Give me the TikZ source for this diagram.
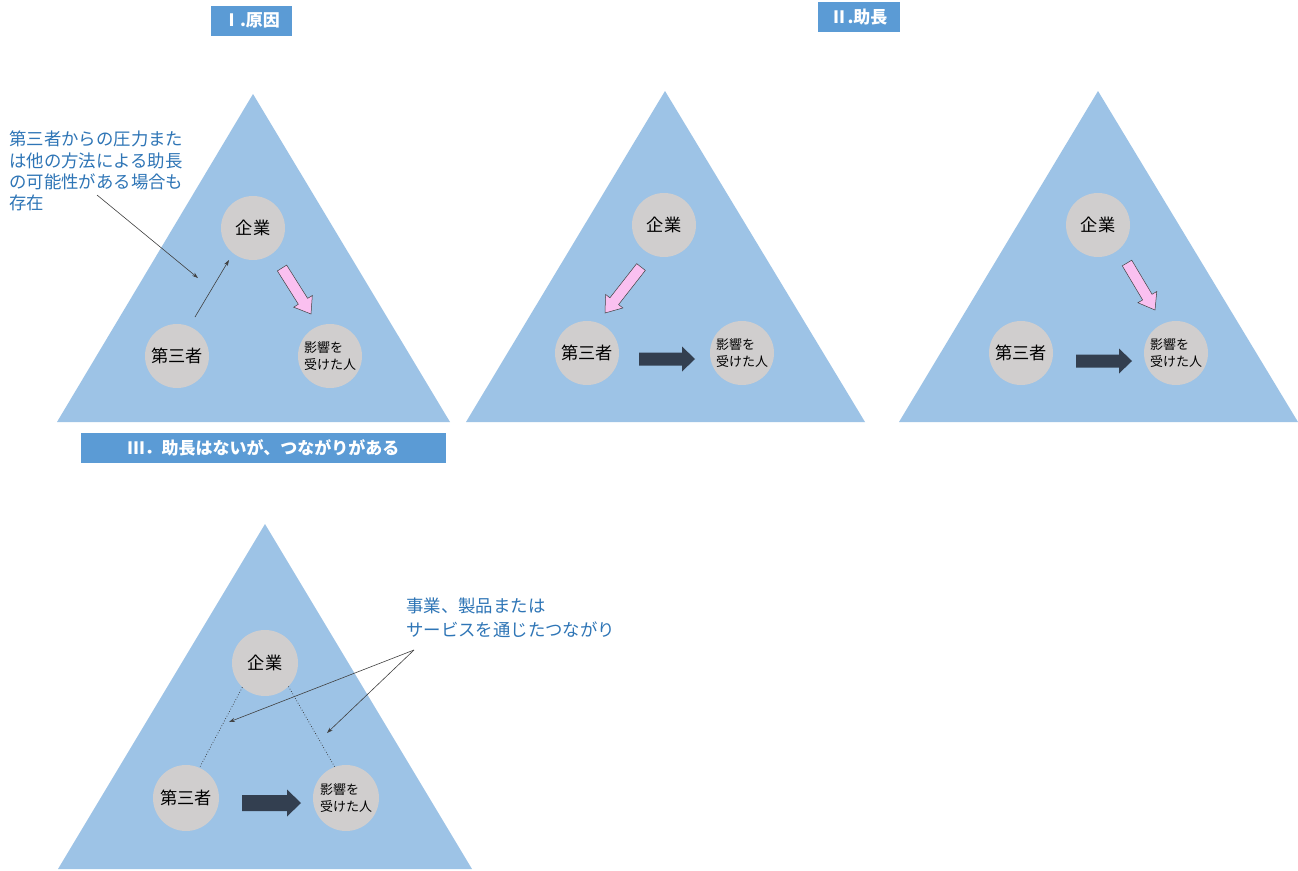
\documentclass[tikz,border=0pt]{standalone}
\usepackage{fontspec}
\setmainfont{Noto Sans CJK JP}
\usetikzlibrary{calc,arrows.meta}
\definecolor{tri}{HTML}{9DC3E6}
\definecolor{titlebg}{HTML}{5B9BD5}
\definecolor{circ}{HTML}{D0CECE}
\definecolor{darkarr}{HTML}{333F50}
\definecolor{pinkarr}{RGB}{250,192,240}
\definecolor{note}{HTML}{2E75B6}
\definecolor{thin}{HTML}{404040}
\newcommand{\blockarr}[6]{%
  \coordinate (bahd) at ($(#2)!#5!(#1)$);
  \path[#6] ($(#1)!#3!90:(#2)$) -- ($(bahd)!#3!-90:(#1)$) -- ($(bahd)!#4!-90:(#1)$) -- (#2) -- ($(bahd)!#4!90:(#1)$) -- ($(bahd)!#3!90:(#1)$) -- ($(#1)!#3!-90:(#2)$) -- cycle;}
\tikzset{
  trishape/.style={fill=tri, draw=none},
  titlebox/.style={fill=titlebg, text=white, font=\fontsize{17}{20}\selectfont\bfseries, inner sep=0pt, anchor=center},
  circnode/.style={circle, fill=circ, minimum size=64pt, inner sep=0pt, font=\fontsize{17.2}{20}\selectfont},
  circsmall/.style={circle, fill=circ, minimum size=64pt, inner sep=0pt, align=left, font=\fontsize{13}{16.5}\selectfont},
  notetext/.style={text=note, align=left, inner sep=0pt, anchor=north west, font=\fontsize{17.4}{21.3}\selectfont},
  thinarrow/.style={draw=thin, line width=0.6pt, -{Stealth[length=6pt,width=4pt]}},
  pinkstyle/.style={fill=pinkarr, draw=thin, line width=0.5pt},
  darkstyle/.style={fill=darkarr},
  dotline/.style={draw=black!80, dotted, line width=0.7pt}
}
\begin{document}
\begin{tikzpicture}[x=1pt,y=-1pt]
\path[use as bounding box, fill=white] (0,0) rectangle (1298,870);

% ---------- I ----------
\fill[trishape] (253,94) -- (450,422) -- (57,422) -- cycle;
\node[titlebox, minimum width=81pt, minimum height=30pt] (t1) at (251.5,20.5) {Ⅰ.原因};
\node[circnode] (k1) at (253,228) {企業};
\node[circnode] (s1) at (177,356) {第三者};
\node[circsmall] (e1) at (330,356) {影響を\\受けた人};
\node[notetext] (n1) at (9,131) {第三者からの圧力また\\は他の方法による助長\\の可能性がある場合も\\存在};
\coordinate (n1a) at (97,195);
\coordinate (n1b) at (198,278);
\draw[thinarrow] (n1a) -- (n1b);
\coordinate (s1a) at (195,317);
\coordinate (k1a) at (229,260);
\draw[thinarrow] (s1a) -- (k1a);
\coordinate (p1a) at (282,268);
\coordinate (p1b) at (311,314);
\blockarr{p1a}{p1b}{5.5pt}{11pt}{15pt}{pinkstyle}

% ---------- II ----------
\fill[trishape] (665,91) -- (865,422) -- (466,422) -- cycle;
\node[titlebox, minimum width=82pt, minimum height=30pt] (t2) at (859,17) {Ⅱ.助長};
\node[circnode] (k2) at (664,225) {企業};
\node[circnode] (s2) at (587,353) {第三者};
\node[circsmall] (e2) at (742,353) {影響を\\受けた人};
\coordinate (p2a) at (641,267);
\coordinate (p2b) at (605,313);
\blockarr{p2a}{p2b}{5.5pt}{11pt}{15pt}{pinkstyle}
\coordinate (d2a) at (639,359);
\coordinate (d2b) at (695,359);
\blockarr{d2a}{d2b}{6.5pt}{12.5pt}{13pt}{darkstyle}

% ---------- II (right) ----------
\fill[trishape] (1098,91) -- (1298,422) -- (899,422) -- cycle;
\node[circnode] (k3) at (1098,225) {企業};
\node[circnode] (s3) at (1021,353) {第三者};
\node[circsmall] (e3) at (1176,353) {影響を\\受けた人};
\coordinate (p3a) at (1127,263);
\coordinate (p3b) at (1155,310);
\blockarr{p3a}{p3b}{5.5pt}{11pt}{15pt}{pinkstyle}
\coordinate (d3a) at (1076,361);
\coordinate (d3b) at (1132,361);
\blockarr{d3a}{d3b}{6.5pt}{12.5pt}{13pt}{darkstyle}

% ---------- III ----------
\node[titlebox, minimum width=365pt, minimum height=30pt] (t4) at (263.5,448) {Ⅲ．助長はないが、つながりがある};
\fill[trishape] (265,524) -- (472,869) -- (58,869) -- cycle;
\node[circnode, minimum size=66pt] (k4) at (265,663) {企業};
\node[circnode, minimum size=66pt] (s4) at (186,798) {第三者};
\node[circsmall, minimum size=66pt] (e4) at (346,798) {影響を\\受けた人};
\draw[dotline] (k4.-133) -- (s4.66);
\draw[dotline] (k4.-45) -- (e4.110);
\node[notetext, font=\fontsize{17.4}{24}\selectfont] (n4) at (406,598) {事業、製品または\\サービスを通じたつながり};
\coordinate (n4a) at (414,650);
\coordinate (n4b) at (229,722);
\coordinate (n4c) at (327,733);
\draw[thinarrow] (n4a) -- (n4b);
\draw[thinarrow] (n4a) -- (n4c);
\coordinate (d4a) at (242,803);
\coordinate (d4b) at (301,803);
\blockarr{d4a}{d4b}{8pt}{13.5pt}{14pt}{darkstyle}
\end{tikzpicture}
\end{document}
